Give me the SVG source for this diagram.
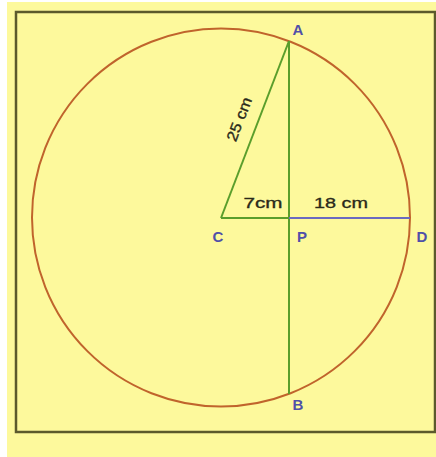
<svg xmlns="http://www.w3.org/2000/svg" width="436" height="457" viewBox="0 0 436 457">
<style>
.lbl{font-family:"Liberation Sans",Arial,sans-serif;font-size:15px;font-weight:bold;fill:#5050a8;text-anchor:middle}
.dim{font-family:"Liberation Sans",Arial,sans-serif;font-size:15px;fill:#2a2a1a;stroke:#2a2a1a;stroke-width:0.35;text-anchor:middle}
.grn{stroke:#5a9e2c;stroke-width:2;fill:none}
</style>
<rect x="0" y="0" width="436" height="457" fill="#ffffff"/>
<rect x="7" y="2" width="429" height="455" fill="#fdf99c"/>
<rect x="16" y="12" width="419" height="420" fill="none" stroke="#5c5a2c" stroke-width="2.5"/>
<g id="circle">
<circle cx="221" cy="217.5" r="189" fill="none" stroke="#c0642c" stroke-width="2"/>
</g>
<g id="connectors">
<line x1="221" y1="218" x2="289" y2="41" class="grn"/>
<line x1="289" y1="41" x2="289" y2="394" class="grn"/>
<line x1="221" y1="218" x2="289" y2="218" class="grn"/>
<line x1="289" y1="218" x2="410" y2="218" stroke="#6a6ac0" stroke-width="2"/>
</g>
<g id="A"><text class="lbl" x="298" y="35">A</text></g>
<g id="C"><text class="lbl" x="218" y="242">C</text></g>
<g id="P"><text class="lbl" x="302" y="242">P</text></g>
<g id="D"><text class="lbl" x="422" y="242">D</text></g>
<g id="B"><text class="lbl" x="298" y="410">B</text></g>
<g id="labels">
<text class="dim" x="263" y="208" textLength="39" lengthAdjust="spacingAndGlyphs">7cm</text>
<text class="dim" x="341" y="208" textLength="54" lengthAdjust="spacingAndGlyphs">18 cm</text>
<text class="dim" transform="translate(244,121) rotate(-69)" x="0" y="0" textLength="46" lengthAdjust="spacingAndGlyphs">25 cm</text>
</g>
</svg>
